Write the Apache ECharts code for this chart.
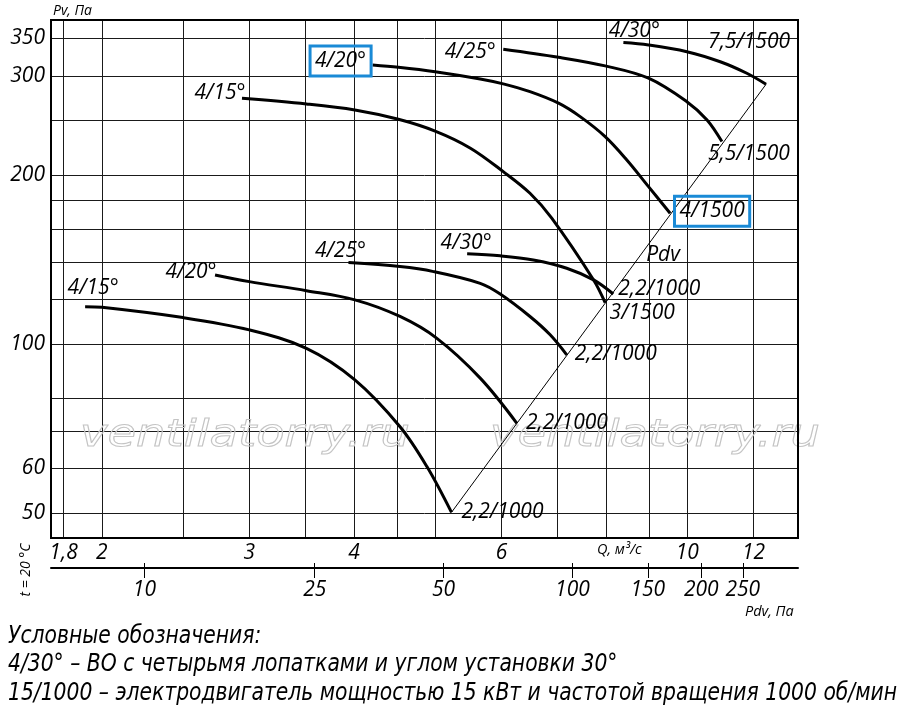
<!DOCTYPE html>
<html>
<head>
<meta charset="utf-8">
<title>Аэродинамические характеристики</title>
<script src="https://cdn.jsdelivr.net/npm/echarts@6/dist/echarts.min.js"></script>
<style>
  html, body { margin: 0; padding: 0; background: #fff; }
  #chart { width: 900px; height: 711px; }
</style>
</head>
<body>
<div id="chart"></div>
<script>
// Сетка и подписи осей
const qGrid = [1.8, 2, 2.5, 3, 3.5, 4, 4.5, 5, 6, 7, 8, 9, 10, 12];
const qLabels = [1.8, 2, 3, 4, 6, 10, 12];
const pGrid = [50, 60, 70, 80, 100, 120, 140, 160, 180, 200, 250, 300, 350];
const pLabels = [50, 60, 100, 200, 300, 350];
const pdvTicks = [10, 25, 50, 100, 150, 200, 250];

// 1000 об/мин
const q15_1000 = [1.91, 2.0, 2.5, 3.0, 3.51, 4.01, 4.54, 4.89, 5.23];
const p15_1000 = [116.5, 116.2, 111.4, 105.9, 98.2, 86.3, 71.2, 60.4, 50.1];
const q20_1000 = [2.73, 3.0, 3.51, 4.01, 4.54, 5.02, 5.66, 6.26];
const p20_1000 = [132.7, 129.1, 124.4, 119.8, 111.9, 102.4, 86.9, 72.2];
const q25_1000 = [3.94, 4.54, 4.98, 5.66, 5.98, 6.49, 6.86, 7.18];
const p25_1000 = [139.6, 137.3, 134.5, 128.2, 122.7, 111.9, 103.8, 95.6];
const q30_1000 = [5.46, 5.98, 6.55, 7.18, 7.73, 8.16];
const p30_1000 = [144.7, 143.5, 141.1, 136.4, 130.0, 122.7];

// 1500 об/мин
const q15_1500 = [2.94, 3.51, 4.01, 4.52, 5.0, 5.51, 6.03, 6.49, 6.89, 7.73, 7.98];
const p15_1500 = [273.9, 267.6, 261.1, 251.3, 239.4, 223.2, 202.7, 185.5, 167.5, 130.0, 118.4];
const q20_1500 = [4.21, 4.52, 5.0, 5.66, 6.03, 6.49, 7.02, 7.45, 7.98, 8.47, 8.99, 9.54];
const p20_1500 = [314.0, 311.1, 305.5, 296.5, 290.6, 281.4, 268.4, 254.0, 234.0, 212.6, 190.6, 170.9];
const q25_1500 = [6.03, 7.02, 7.98, 8.99, 9.99, 10.56, 11.0];
const p25_1500 = [335.0, 324.1, 312.8, 297.4, 270.1, 250.6, 229.3];
const q30_1500 = [8.39, 8.99, 9.99, 10.95, 11.78, 12.42];
const p30_1500 = [344.2, 340.8, 331.6, 318.2, 303.5, 290.1];

// линия динамического давления Pdv
const pdvLineQ = [5.23, 12.42];
const pdvLineP = [50.1, 290.1];

const bladeNames = ['4/15°', '4/20°', '4/25°', '4/30°', '4/15°', '4/20°', '4/25°', '4/30°'];
const motorNames = ['2,2/1000', '2,2/1000', '2,2/1000', '2,2/1000', '3/1500', '4/1500', '5,5/1500', '7,5/1500'];

const legendLines = [
  'Условные обозначения:',
  '4/30° – ВО с четырьмя лопатками и углом установки 30°',
  '15/1000 – электродвигатель мощностью 15 кВт и частотой вращения 1000 об/мин'
];

const FONT = '"Open Sans", "DejaVu Sans", sans-serif';
const BLUE = '#1a8ad6';

// сдвиги подписей относительно начала/конца кривой (px)
const startOffsets = [[8, -19], [-24, -3], [-8, -12], [-1, -11], [-22, -5], [-32, -4], [-33, 3], [11, -12]];
const endOffsets = [[51, 0], [50, 0], [49, -1], [46, -5], [37, 10], [42, -2], [27, 12], [-17, -42]];
const boxedStart = [false, false, false, false, false, true, false, false];
const boxedEnd = [false, false, false, false, false, true, false, false];

const curveQ = [q15_1000, q20_1000, q25_1000, q30_1000, q15_1500, q20_1500, q25_1500, q30_1500];
const curveP = [p15_1000, p20_1000, p25_1000, p30_1000, p15_1500, p20_1500, p25_1500, p30_1500];

function textLabel(text, offset, boxed) {
  const lbl = {
    show: true,
    position: 'inside',
    offset: offset,
    formatter: text,
    fontFamily: FONT,
    fontStyle: 'italic',
    fontSize: 21,
    lineHeight: 22,
    color: '#000'
  };
  if (boxed) {
    lbl.borderColor = BLUE;
    lbl.borderWidth = 3;
    lbl.padding = [4, 5, 4, 5];
  }
  return lbl;
}

function buildCurve(i) {
  const qs = curveQ[i], ps = curveP[i];
  const data = qs.map((q, k) => {
    const item = { value: [q, ps[k]] };
    if (k === 0) item.label = textLabel(bladeNames[i], startOffsets[i], boxedStart[i]);
    if (k === qs.length - 1) item.label = textLabel(motorNames[i], endOffsets[i], boxedEnd[i]);
    return item;
  });
  return {
    type: 'line',
    xAxisIndex: 0,
    yAxisIndex: 0,
    data: data,
    smooth: 0.35,
    symbol: 'circle',
    symbolSize: 0,
    showSymbol: true,
    lineStyle: { color: '#000', width: 3 },
    itemStyle: { color: '#000' },
    label: { show: false },
    z: 5
  };
}

// подгонка ширины текста
const measureCtx = document.createElement('canvas').getContext('2d');
function fitScale(text, font, width) {
  measureCtx.font = font;
  return width / measureCtx.measureText(text).width;
}

function fmtNum(v) {
  const r = Math.round(v * 10) / 10;
  return String(r).replace('.', ',');
}

const axisLabelStyle = {
  fontFamily: FONT,
  fontStyle: 'italic',
  fontSize: 21,
  color: '#000'
};

const chart = echarts.init(document.getElementById('chart'));

const legendFont = 'italic 25px "Liberation Sans Narrow", "DejaVu Sans Condensed", Roboto, sans-serif';
const legendScale = fitScale(legendLines[2], legendFont, 889);
const legendCenters = [636, 664, 693];

const wmFont = 'italic 38px "DejaVu Sans", sans-serif';
const wmScale = fitScale('ventilatorry.ru', wmFont, 330);

const graphics = [];
[80, 490].forEach(x => {
  graphics.push({
    type: 'text', x: x, y: 436, scaleX: wmScale, z: 1, silent: true,
    style: { text: 'ventilatorry.ru', font: wmFont, fill: 'rgba(255,255,255,0)', stroke: '#c4c4c4', lineWidth: 1, textVerticalAlign: 'middle' }
  });
});
legendLines.forEach((t, i) => {
  graphics.push({
    type: 'text', x: 8, y: legendCenters[i], scaleX: legendScale,
    style: { text: t, font: legendFont, fill: '#000', textVerticalAlign: 'middle' }
  });
});
graphics.push(
  { type: 'text', x: 53, y: 11, style: { text: 'Pv, Па', font: 'italic 14px ' + FONT, fill: '#000', textVerticalAlign: 'middle' } },
  { type: 'text', x: 597, y: 550, style: { text: 'Q, м³/с', font: 'italic 14.5px ' + FONT, fill: '#000', textVerticalAlign: 'middle' } },
  { type: 'text', x: 745, y: 612, style: { text: 'Pdv, Па', font: 'italic 14.5px ' + FONT, fill: '#000', textVerticalAlign: 'middle' } },
  { type: 'text', x: 663, y: 255, style: { text: 'Pdv', font: 'italic 21px ' + FONT, fill: '#000', textAlign: 'center', textVerticalAlign: 'middle' } },
  { type: 'text', x: 26, y: 570, rotation: Math.PI / 2, style: { text: 't = 20 °C', font: 'italic 14px ' + FONT, fill: '#000', textAlign: 'center', textVerticalAlign: 'middle' } }
);

const series = curveQ.map((_, i) => buildCurve(i));
series.push({
  type: 'line',
  xAxisIndex: 0,
  yAxisIndex: 0,
  data: pdvLineQ.map((q, k) => [q, pdvLineP[k]]),
  symbol: 'none',
  lineStyle: { color: '#000', width: 1 },
  z: 4
});

const option = {
  animation: false,
  backgroundColor: '#fff',
  grid: [
    { left: 51, top: 20, width: 747, height: 518, show: true, borderColor: '#000', borderWidth: 2, backgroundColor: 'rgba(0,0,0,0)', z: 3 },
    { left: 51, top: 563, width: 747, height: 5, show: false }
  ],
  xAxis: [
    {
      type: 'log', gridIndex: 0, min: 1.739, max: 13.56,
      axisLine: { show: false },
      axisTick: { show: false, customValues: qGrid },
      splitLine: { show: true, lineStyle: { color: '#1a1a1a', width: 1 } },
      axisLabel: Object.assign({ customValues: qLabels, margin: 5, formatter: v => fmtNum(v) }, axisLabelStyle)
    },
    {
      type: 'log', gridIndex: 1, min: 6.05, max: 336.5, position: 'bottom',
      axisLine: { show: true, lineStyle: { color: '#000', width: 2 } },
      axisTick: { show: true, customValues: pdvTicks, length: 10, lineStyle: { color: '#000', width: 1 } },
      splitLine: { show: true, lineStyle: { color: '#000', width: 1 } },
      axisLabel: Object.assign({ customValues: pdvTicks, margin: 12, formatter: v => String(Math.round(v)) }, axisLabelStyle)
    }
  ],
  yAxis: [
    {
      type: 'log', gridIndex: 0, min: 45.1, max: 377.6,
      axisLine: { show: false },
      axisTick: { show: false, customValues: pGrid },
      splitLine: { show: true, lineStyle: { color: '#1a1a1a', width: 1 } },
      axisLabel: Object.assign({ customValues: pLabels, margin: 6, formatter: v => String(Math.round(v)) }, axisLabelStyle)
    },
    { type: 'value', gridIndex: 1, show: false, min: 0, max: 1 }
  ],
  series: series,
  graphic: graphics
};

chart.setOption(option);
</script>
</body>
</html>
